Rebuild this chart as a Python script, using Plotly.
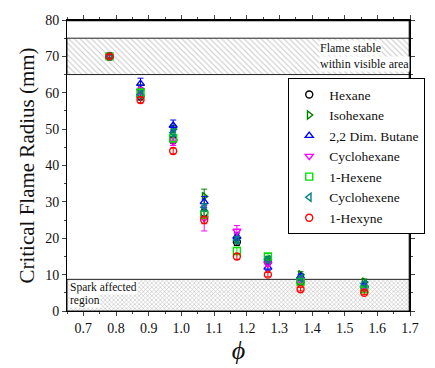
import plotly.graph_objects as go

phi = [0.78, 0.875, 0.975, 1.07, 1.17, 1.265, 1.365, 1.56]

fuels = ["Hexane", "Isohexane", "2,2 Dim. Butane", "Cyclohexane",
         "1-Hexene", "Cyclohexene", "1-Hexyne"]
symbols = ["circle-open", "triangle-right-open", "triangle-up-open",
           "triangle-down-open", "square-open", "triangle-left-open", "circle-open"]
colors = ["#000000", "#008000", "#0000FF", "#FF00FF", "#00E000", "#008080", "#FF0000"]

hexane      = [70.0, 59.0, 47.0, 27.0, 19.0, 13.5, 8.0, 6.5]
isohexane   = [70.0, 61.0, 50.0, 31.5, 20.0, 14.0, 10.0, 8.0]
dimbutane   = [70.0, 62.5, 51.0, 30.0, 20.5, 12.0, 9.5, 7.0]
cyclohexane = [70.0, 60.5, 46.5, 25.5, 22.0, 13.0, 8.5, 6.5]
hexene      = [70.0, 60.0, 47.5, 26.5, 16.5, 15.0, 8.0, 6.0]
cyclohexene = [70.0, 59.5, 49.0, 28.5, 19.5, 14.2, 9.0, 7.5]
hexyne      = [70.0, 58.0, 44.0, 25.0, 15.0, 10.0, 6.0, 5.0]

err_hexane      = [0.5, 1.0, 1.0, 1.0, 1.0, 0.8, 0.6, 0.5]
err_isohexane   = [0.5, 1.2, 1.0, 2.0, 1.2, 0.8, 0.8, 0.8]
err_dimbutane   = [0.5, 1.5, 1.5, 1.5, 1.0, 0.8, 0.6, 0.6]
err_cyclohexane = [0.5, 1.0, 1.0, 3.5, 1.5, 0.8, 0.6, 0.6]
err_hexene      = [0.5, 1.0, 1.0, 1.0, 1.0, 0.8, 0.6, 0.5]
err_cyclohexene = [0.5, 1.0, 1.0, 1.0, 1.0, 0.8, 0.6, 0.5]
err_hexyne      = [0.5, 0.8, 0.8, 1.0, 0.8, 0.6, 0.5, 0.5]

series = [hexane, isohexane, dimbutane, cyclohexane, hexene, cyclohexene, hexyne]
errors = [err_hexane, err_isohexane, err_dimbutane, err_cyclohexane,
          err_hexene, err_cyclohexene, err_hexyne]

x_range = [0.65, 1.70001]
y_range = [0, 80]
stable_band = [65, 75]
spark_band = [0, 8.7]

FONT = "Liberation Serif"
TXT = "#111111"

fig = go.Figure()

fig.add_trace(go.Scatter(
    x=[x_range[0], x_range[1], x_range[1], x_range[0], x_range[0]],
    y=[stable_band[0], stable_band[0], stable_band[1], stable_band[1], stable_band[0]],
    mode="lines", fill="toself", line=dict(color="#222222", width=1),
    fillcolor="white",
    fillpattern=dict(shape="\\", fgcolor="#909090", bgcolor="white", size=4, solidity=0.25),
    showlegend=False, hoverinfo="skip"))
fig.add_trace(go.Scatter(
    x=[x_range[0], x_range[1], x_range[1], x_range[0], x_range[0]],
    y=[spark_band[0], spark_band[0], spark_band[1], spark_band[1], spark_band[0]],
    mode="lines", fill="toself", line=dict(color="#222222", width=1),
    fillcolor="white",
    fillpattern=dict(shape="x", fgcolor="#7a7a7a", bgcolor="white", size=3, solidity=0.35),
    showlegend=False, hoverinfo="skip"))

for name, sym, col, vals, err in zip(fuels, symbols, colors, series, errors):
    fig.add_trace(go.Scatter(
        x=phi, y=vals, mode="markers", name=name,
        marker=dict(symbol=sym, size=7, color=col, line=dict(width=1.4, color=col)),
        error_y=dict(type="data", array=err, visible=True, color=col,
                     thickness=1, width=3)))

axis_common = dict(showgrid=False, zeroline=False, showline=True, mirror="ticks",
                   linecolor="#000000", linewidth=1,
                   tickfont=dict(family=FONT, size=14, color=TXT))

fig.update_layout(
    width=435, height=368,
    margin=dict(l=67, r=10, t=20, b=54),
    paper_bgcolor="white", plot_bgcolor="white",
    font=dict(family=FONT, color=TXT),
    xaxis=dict(range=x_range, dtick=0.1, tick0=0.7, ticks="outside", ticklen=4,
               tickformat=".1f",
               minor=dict(dtick=0.05, ticks="outside", ticklen=2),
               title=dict(text="<i>ϕ</i>", font=dict(family=FONT, size=26), standoff=4),
               **axis_common),
    yaxis=dict(range=y_range, dtick=10, ticks="outside", ticklen=4,
               minor=dict(dtick=5, ticks="outside", ticklen=2),
               title=dict(text="Critical Flame Radius (mm)", font=dict(family=FONT, size=21),
                          standoff=4),
               **axis_common),
    legend=dict(x=0.645, y=0.80, xanchor="left", yanchor="top",
                bgcolor="white", bordercolor="#000000", borderwidth=1,
                font=dict(family=FONT, size=13.5, color=TXT),
                tracegroupgap=0, itemwidth=30),
    showlegend=True,
)

# explicit frame edges drawn slightly inside the plot area so they are not clipped
fig.add_shape(type="line", xref="paper", yref="paper", x0=0, x1=1, y0=0.998, y1=0.998,
              line=dict(color="#000000", width=1.2), layer="above")
fig.add_shape(type="line", xref="paper", yref="paper", x0=0.998, x1=0.998, y0=0, y1=1,
              line=dict(color="#000000", width=1.2), layer="above")

ann_font = dict(family=FONT, size=12, color=TXT)
fig.add_annotation(x=1.42, y=72.2, xref="x", yref="y", xanchor="left", yanchor="middle",
                   text="Flame stable", showarrow=False, bgcolor="white",
                   font=ann_font, borderpad=0)
fig.add_annotation(x=1.42, y=68.0, xref="x", yref="y", xanchor="left", yanchor="middle",
                   text="within visible area", showarrow=False, bgcolor="white",
                   font=ann_font, borderpad=0)
fig.add_annotation(x=0.657, y=6.5, xref="x", yref="y", xanchor="left", yanchor="middle",
                   text="Spark affected", showarrow=False, bgcolor="white",
                   font=dict(family=FONT, size=11.5, color=TXT), borderpad=0)
fig.add_annotation(x=0.657, y=2.8, xref="x", yref="y", xanchor="left", yanchor="middle",
                   text="region", showarrow=False, bgcolor="white",
                   font=dict(family=FONT, size=11.5, color=TXT), borderpad=0)

fig.write_html("out.html")
